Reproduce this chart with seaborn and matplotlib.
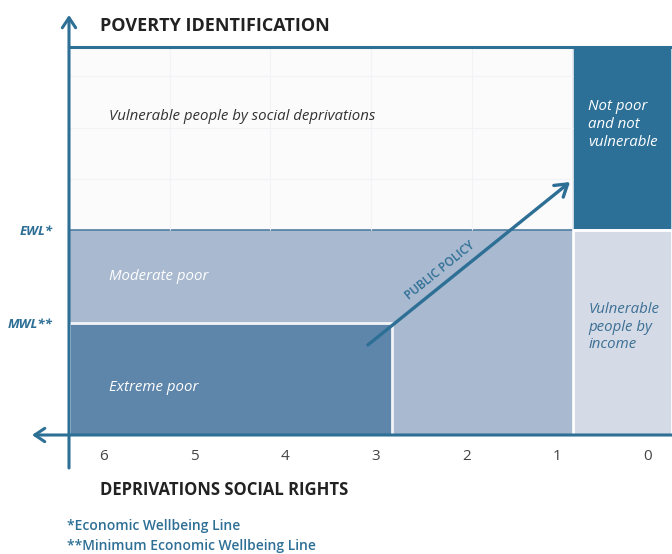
import matplotlib
matplotlib.use("Agg")
import matplotlib.pyplot as plt
import seaborn as sns
import numpy as np

# Region layout in chart units (x = number of social deprivations, y = income share)
x_left, x_right = 6.386, -0.265
col_split = 0.83        # between 1 and 0 deprivations
extreme_split = 2.82    # extreme poor ends just right of 3
mwl = 0.289             # minimum economic wellbeing line
ewl = 0.528             # economic wellbeing line
y_top = 1.0

x_ticks = [6, 5, 4, 3, 2, 1, 0]

# rectangles: (x_start, x_end, y_bottom, y_top, fill, edge)
regions = {
    "social": (x_left, col_split, ewl, y_top, "#fbfbfc", "none"),
    "notpoor": (col_split, x_right, ewl, y_top, "#2c6f97", "#e6ebf1"),
    "moderate": (x_left, col_split, 0, ewl, "#a9b9cf", "#4f7fa3"),
    "extreme": (x_left, extreme_split, 0, mwl, "#5e86aa", "#f2f4f8"),
    "income": (col_split, x_right, 0, ewl, "#d4dbe6", "white"),
}

labels = [
    ("Vulnerable people by social deprivations", 5.945, 0.822, "#333333"),
    ("Moderate poor", 5.945, 0.408, "white"),
    ("Extreme poor", 5.945, 0.122, "white"),
    ("Not poor\nand not\nvulnerable", 0.66, 0.80, "white"),
    ("Vulnerable\npeople by\nincome", 0.66, 0.278, "#3d6f95"),
]

blue = "#2e6f96"

sns.set_theme(style="white")
plt.rcParams["font.family"] = ["Open Sans", "DejaVu Sans"]

fig = plt.figure(figsize=(6.72, 5.54), dpi=100)
ax = fig.add_axes([69 / 672, 1 - 435 / 554, 603 / 672, 388 / 554])

for name, (x0, x1, y0, y1, fc, ec) in regions.items():
    lw = 2.0 if name in ("income", "extreme") else 1.2
    ax.bar(x0, y1 - y0, width=x1 - x0, bottom=y0, align="edge",
           color=fc, edgecolor=ec, linewidth=lw, zorder=2)

# faint grid in the top-left region
gx = np.linspace(x_left, col_split, 6)[1:-1]
gstep = 0.132
gy = np.arange(ewl + gstep, y_top, gstep)
ax.vlines(gx, ewl, y_top, color="#f2f3f7", lw=0.8, zorder=2.5)
ax.hlines(gy, x_left, col_split, color="#f2f3f7", lw=0.8, zorder=2.5)

for txt, x, y, c in labels:
    ax.text(x, y, txt, ha="left", va="center", color=c, fontsize=10.8,
            style="italic", linespacing=1.25, zorder=4)

# public policy arrow
ax.annotate("", xy=(0.86, 0.652), xytext=(3.09, 0.232),
            arrowprops=dict(arrowstyle="->,head_length=0.7,head_width=0.45",
                            color=blue, lw=2.4, shrinkA=0, shrinkB=0), zorder=5)
ax.text(2.29, 0.425, "PUBLIC POLICY", rotation=38.9, color=blue, fontsize=8.5,
        fontweight="semibold", ha="center", va="center",
        rotation_mode="anchor", zorder=5)

ax.set_xlim(x_left, x_right)
ax.set_ylim(0, y_top)
ax.set_xticks(x_ticks)
ax.set_xticklabels([str(t) for t in x_ticks], color="#444444", fontsize=11)
ax.set_yticks([mwl, ewl])
ax.set_yticklabels(["MWL**", "EWL*"], color=blue, fontsize=9.5,
                   style="italic", fontweight="bold")
ax.tick_params(axis="x", length=0, pad=10)
ax.tick_params(axis="y", length=0, pad=12)

for s in ["left", "bottom", "right"]:
    ax.spines[s].set_visible(False)
ax.spines["top"].set_color(blue)
ax.spines["top"].set_linewidth(2.2)

# axis arrows in figure pixels
ax.annotate("", xy=(69, 554 - 15), xytext=(69, 554 - 468), xycoords="figure pixels",
            textcoords="figure pixels",
            arrowprops=dict(arrowstyle="->,head_length=0.6,head_width=0.4",
                            color=blue, lw=2.2, shrinkA=0, shrinkB=0), zorder=6)
ax.annotate("", xy=(32, 554 - 435), xytext=(672, 554 - 435), xycoords="figure pixels",
            textcoords="figure pixels",
            arrowprops=dict(arrowstyle="->,head_length=0.6,head_width=0.4",
                            color=blue, lw=2.2, shrinkA=0, shrinkB=0), zorder=6)

fig.text(100 / 672, 1 - 26 / 554, "POVERTY IDENTIFICATION", fontsize=13,
         fontweight="bold", color="#222222", ha="left", va="center")
fig.text(100 / 672, 1 - 490 / 554, "DEPRIVATIONS SOCIAL RIGHTS", fontsize=12,
         fontweight="bold", color="#222222", ha="left", va="center")
fig.text(67 / 672, 1 - 526 / 554, "*Economic Wellbeing Line", fontsize=10,
         fontweight="semibold", color=blue, ha="left", va="center")
fig.text(67 / 672, 1 - 546 / 554, "**Minimum Economic Wellbeing Line", fontsize=10,
         fontweight="semibold", color=blue, ha="left", va="center")

fig.savefig("out.png", dpi=100)
